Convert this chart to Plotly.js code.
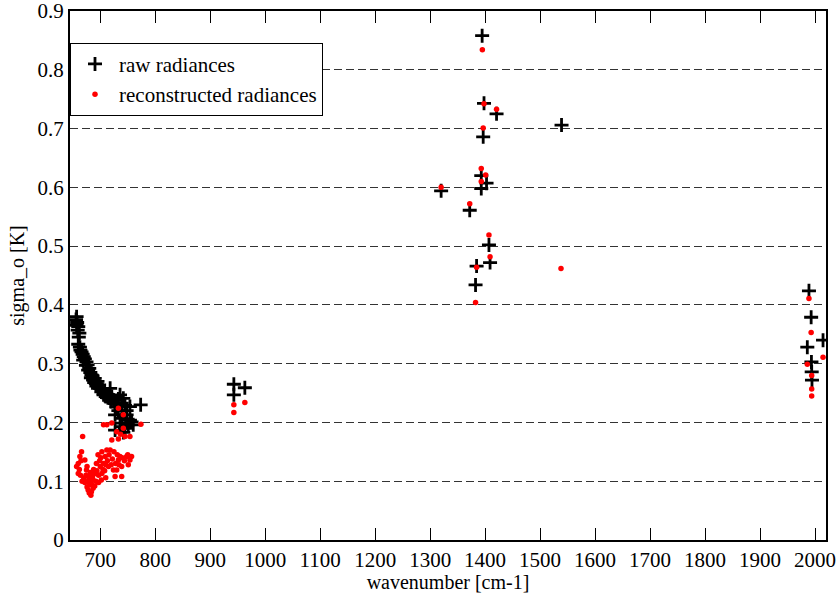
<!DOCTYPE html>
<html>
<head>
<meta charset="utf-8">
<script src="https://cdn.plot.ly/plotly-3.0.1.min.js"></script>
<style>html,body{margin:0;padding:0;background:#fff;}#chart{width:838px;height:593px;}</style>
</head>
<body>
<div id="chart"></div>
<script>
// raw radiances
const rawX = [657,656,658,657,660,659,662,661,660,663,664,666,668,670,669,672,675,674,677,678,680,682,684,683,686,687,689,690,692,693,695,696,698,700,702,704,706,708,710,712,714,718,721,719,724,727,730,733,736,742,739,745,754,773.5,727,739,748,757,751,739,727,736,745,760,754,742,733,748,
  943,963,943,
  1394.6,1398,1420.8,1396.5,1539,1393,1402.6,1393,1320,1372,1407,1409,1384.5,1382.6,
  1989,1993,2014.6,1986,1993.5,1994,1994.5];
const rawY = [0.380,0.375,0.370,0.365,0.363,0.357,0.352,0.345,0.333,0.328,0.323,0.320,0.316,0.312,0.306,0.308,0.303,0.297,0.298,0.289,0.292,0.285,0.281,0.276,0.279,0.272,0.268,0.275,0.266,0.262,0.270,0.258,0.264,0.258,0.252,0.256,0.247,0.250,0.244,0.248,0.242,0.258,0.244,0.236,0.238,0.232,0.226,0.240,0.247,0.241,0.233,0.229,0.227,0.230,0.213,0.207,0.213,0.201,0.196,0.193,0.187,0.199,0.190,0.196,0.204,0.183,0.220,0.220,
  0.265,0.259,0.247,
  0.858,0.743,0.725,0.686,0.706,0.620,0.607,0.598,0.594,0.561,0.502,0.472,0.466,0.434,
  0.424,0.379,0.340,0.328,0.303,0.286,0.272];
// reconstructed radiances
const recX = [668,666,663,660,657,660,672,675,678,675,681,678,684,687,687,690,693,696,700,703,706,709,712,718,715,706,712,721,721,733,742,733,736,748,754,757,751,739,730,727,739,724,745,754,774,742,730,
  662,665,670,672,674,676,680,682,684,686,688,690,692,694,697,699,701,703,705,708,710,713,716,720,722,725,728,731,734,740,744,750,683,680,676,664,667,702,697,733,710,737,
  943,963,943,
  1395,1398,1420.8,1396.5,1393,1401,1393,1320,1372,1407,1409,1384.5,1538,1382.6,
  1989,1993,2014.6,1986,1994,1994,1994];
const recY = [0.176,0.150,0.142,0.130,0.125,0.113,0.136,0.119,0.108,0.099,0.094,0.085,0.082,0.088,0.102,0.113,0.130,0.145,0.125,0.113,0.130,0.142,0.153,0.153,0.125,0.196,0.196,0.199,0.170,0.224,0.213,0.136,0.142,0.142,0.136,0.142,0.128,0.125,0.119,0.108,0.108,0.119,0.176,0.176,0.197,0.190,0.184,
  0.120,0.135,0.105,0.098,0.110,0.125,0.102,0.115,0.095,0.108,0.120,0.092,0.100,0.118,0.110,0.135,0.140,0.150,0.120,0.118,0.128,0.135,0.145,0.128,0.138,0.150,0.130,0.145,0.128,0.140,0.135,0.145,0.076,0.080,0.090,0.110,0.100,0.102,0.098,0.172,0.106,0.180,
  0.230,0.234,0.217,
  0.834,0.742,0.733,0.701,0.632,0.621,0.610,0.600,0.572,0.519,0.482,0.464,0.462,0.404,
  0.411,0.353,0.311,0.299,0.280,0.257,0.245];
const xTicks = [700,800,900,1000,1100,1200,1300,1400,1500,1600,1700,1800,1900,2000];
const yTicks = [0,0.1,0.2,0.3,0.4,0.5,0.6,0.7,0.8,0.9];

const serif = 'Liberation Serif, Times New Roman, serif';
const traces = [
  {x: rawX, y: rawY, type: 'scatter', mode: 'markers', name: 'raw radiances',
   marker: {symbol: 'cross-thin-open', size: 10, color: '#000', line: {color: '#000', width: 2.8}}},
  {x: recX, y: recY, type: 'scatter', mode: 'markers', name: 'reconstructed radiances',
   marker: {symbol: 'circle', size: 5.5, color: '#ff0000'}}
];
const layout = {
  width: 838, height: 593,
  margin: {l: 70, r: 12, t: 11, b: 53},
  paper_bgcolor: '#fff', plot_bgcolor: '#fff',
  font: {family: serif, size: 21, color: '#000'},
  showlegend: true,
  legend: {x: 0, y: 0.94, xanchor: 'left', yanchor: 'top', bgcolor: '#fff',
           bordercolor: '#000', borderwidth: 1, font: {family: serif, size: 21},
           tracegroupgap: 0, itemwidth: 38},
  xaxis: {range: [645, 2020], tickvals: xTicks, ticktext: xTicks.map(String),
          ticks: 'inside', ticklen: 12, tickcolor: '#000', tickwidth: 1, mirror: 'ticks',
          showline: true, linecolor: '#000', linewidth: 2, showgrid: false, zeroline: false,
          tickfont: {family: serif, size: 21}, ticklabeloverflow: 'allow',
          title: {text: 'wavenumber [cm-1]', font: {family: serif, size: 20}, standoff: 2}},
  yaxis: {range: [0, 0.9], tickvals: yTicks, ticktext: yTicks.map(v => String(v)),
          ticks: '', showline: true, mirror: true, linecolor: '#000', linewidth: 2,
          showgrid: true, gridcolor: '#333', griddash: '8px,4px', gridwidth: 1, zeroline: false,
          tickfont: {family: serif, size: 21}, ticklabeloverflow: 'allow',
          title: {text: 'sigma_o [K]', font: {family: serif, size: 20}, standoff: 8}}
};
Plotly.newPlot('chart', traces, layout, {displayModeBar: false, staticPlot: true});
</script>
</body>
</html>
